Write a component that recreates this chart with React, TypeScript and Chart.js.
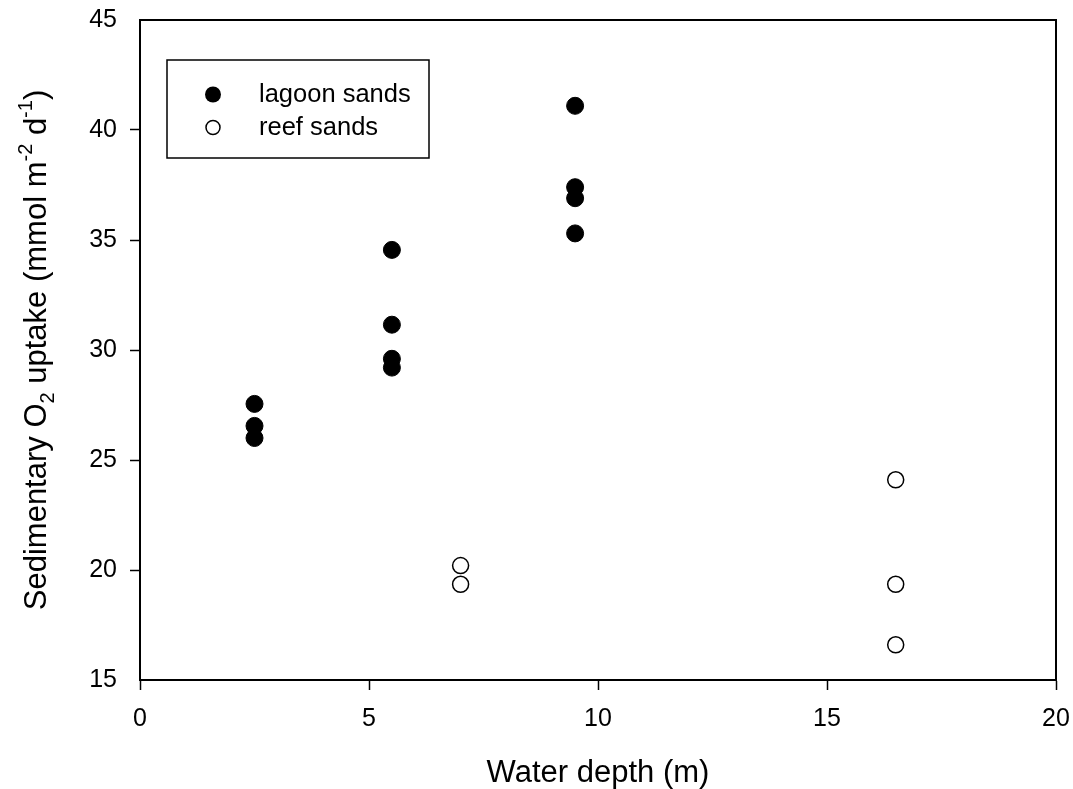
import React, { useEffect, useRef } from "react";
import { Chart, registerables } from "chart.js";

Chart.register(...registerables);

const lagoonDepth = [2.5, 2.5, 2.5, 5.5, 5.5, 5.5, 5.5, 9.5, 9.5, 9.5, 9.5];
const lagoonUptake = [27.55, 26.55, 26.0, 34.55, 31.15, 29.6, 29.2, 41.1, 37.4, 36.9, 35.3];
const reefDepth = [7, 7, 16.5, 16.5, 16.5];
const reefUptake = [20.2, 19.35, 24.1, 19.35, 16.6];
const seriesNames = ["lagoon sands", "reef sands"];
const xTitle = "Water depth (m)";
const xTicks = [0, 5, 10, 15, 20];
const yTicks = [15, 20, 25, 30, 35, 40, 45];

const FONT = "'Liberation Sans', Arial, Helvetica, sans-serif";

const framePlugin = {
  id: "frameAndTitles",
  afterDraw(chart: any) {
    const { ctx, chartArea } = chart;
    const { left, right, top, bottom } = chartArea;
    ctx.save();
    ctx.strokeStyle = "#000";
    ctx.lineWidth = 2;
    ctx.strokeRect(left, top, right - left, bottom - top);

    // Legend box
    const lx = left + 27;
    const ly = top + 40;
    const lw = 262;
    const lh = 98;
    ctx.lineWidth = 1.5;
    ctx.strokeRect(lx, ly, lw, lh);
    const rows = [ly + 34.5, ly + 67.5];
    ctx.beginPath();
    ctx.arc(lx + 46, rows[0], 8, 0, Math.PI * 2);
    ctx.fillStyle = "#000";
    ctx.fill();
    ctx.beginPath();
    ctx.arc(lx + 46, rows[1], 7, 0, Math.PI * 2);
    ctx.fillStyle = "#fff";
    ctx.fill();
    ctx.lineWidth = 1.5;
    ctx.stroke();
    ctx.fillStyle = "#000";
    ctx.font = `25.5px ${FONT}`;
    ctx.textBaseline = "middle";
    ctx.textAlign = "left";
    ctx.fillText(seriesNames[0], lx + 92, rows[0]);
    ctx.fillText(seriesNames[1], lx + 92, rows[1]);

    // X title
    ctx.font = `31px ${FONT}`;
    ctx.textAlign = "center";
    ctx.textBaseline = "alphabetic";
    ctx.fillText(xTitle, (left + right) / 2, 782);

    // Y title with sub/superscripts
    const main = `31px ${FONT}`;
    const small = `20px ${FONT}`;
    const pieces: [string, string, number][] = [
      ["Sedimentary O", main, 0],
      ["2", small, 8],
      [" uptake (mmol m", main, 0],
      ["-2", small, -14],
      [" d", main, 0],
      ["-1", small, -14],
      [")", main, 0],
    ];
    let total = 0;
    const widths = pieces.map(([t, f]) => {
      ctx.font = f;
      const w = ctx.measureText(t).width;
      total += w;
      return w;
    });
    ctx.translate(46, (top + bottom) / 2);
    ctx.rotate(-Math.PI / 2);
    ctx.textAlign = "left";
    let x = -total / 2;
    pieces.forEach(([t, f, dy], i) => {
      ctx.font = f;
      ctx.fillText(t, x, dy);
      x += widths[i];
    });
    ctx.restore();
  },
};

export default function App() {
  const ref = useRef<HTMLCanvasElement>(null);
  useEffect(() => {
    document.body.style.margin = "0";
    const canvas = ref.current!;
    const chart = new Chart(canvas, {
      type: "scatter",
      data: {
        datasets: [
          {
            label: seriesNames[0],
            data: lagoonDepth.map((d, i) => ({ x: d, y: lagoonUptake[i] })),
            backgroundColor: "#000",
            borderColor: "#000",
            borderWidth: 1,
            pointRadius: 8.5,
            pointHoverRadius: 8.5,
          },
          {
            label: seriesNames[1],
            data: reefDepth.map((d, i) => ({ x: d, y: reefUptake[i] })),
            backgroundColor: "#fff",
            borderColor: "#000",
            borderWidth: 1.5,
            pointRadius: 8,
            pointHoverRadius: 8,
          },
        ],
      },
      options: {
        animation: false,
        responsive: false,
        events: [],
        layout: { padding: { top: 20, right: 17, left: 0, bottom: 0 } },
        plugins: {
          legend: { display: false },
          tooltip: { enabled: false },
          title: { display: false },
        },
        scales: {
          x: {
            type: "linear",
            min: 0,
            max: 20,
            afterBuildTicks: (s: any) => {
              s.ticks = xTicks.map((v) => ({ value: v }));
            },
            afterFit: (s: any) => {
              s.height = 109;
              s.paddingLeft = 0;
              s.paddingRight = 0;
            },
            grid: {
              drawOnChartArea: false,
              drawTicks: true,
              tickLength: 10,
              tickWidth: 1.5,
              tickColor: "#000",
            },
            border: { display: true, color: "#000", width: 2 },
            ticks: {
              color: "#000",
              font: { family: FONT, size: 25 },
              padding: 14,
              maxRotation: 0,
            },
          },
          y: {
            type: "linear",
            min: 15,
            max: 45,
            afterBuildTicks: (s: any) => {
              s.ticks = yTicks.map((v) => ({ value: v }));
            },
            afterFit: (s: any) => {
              s.width = 140;
              s.paddingTop = 0;
              s.paddingBottom = 0;
            },
            grid: {
              drawOnChartArea: false,
              drawTicks: true,
              tickLength: 10,
              tickWidth: 1.5,
              tickColor: (c: any) =>
                c.tick && (c.tick.value === 15 || c.tick.value === 45) ? "rgba(0,0,0,0)" : "#000",
            },
            border: { display: true, color: "#000", width: 2 },
            ticks: {
              color: "#000",
              font: { family: FONT, size: 25 },
              padding: 13,
            },
          },
        },
      },
      plugins: [framePlugin],
    });
    return () => chart.destroy();
  }, []);
  return (
    <div style={{ width: 1073, height: 789 }}>
      <canvas ref={ref} width={1073} height={789} style={{ display: "block" }} />
    </div>
  );
}
